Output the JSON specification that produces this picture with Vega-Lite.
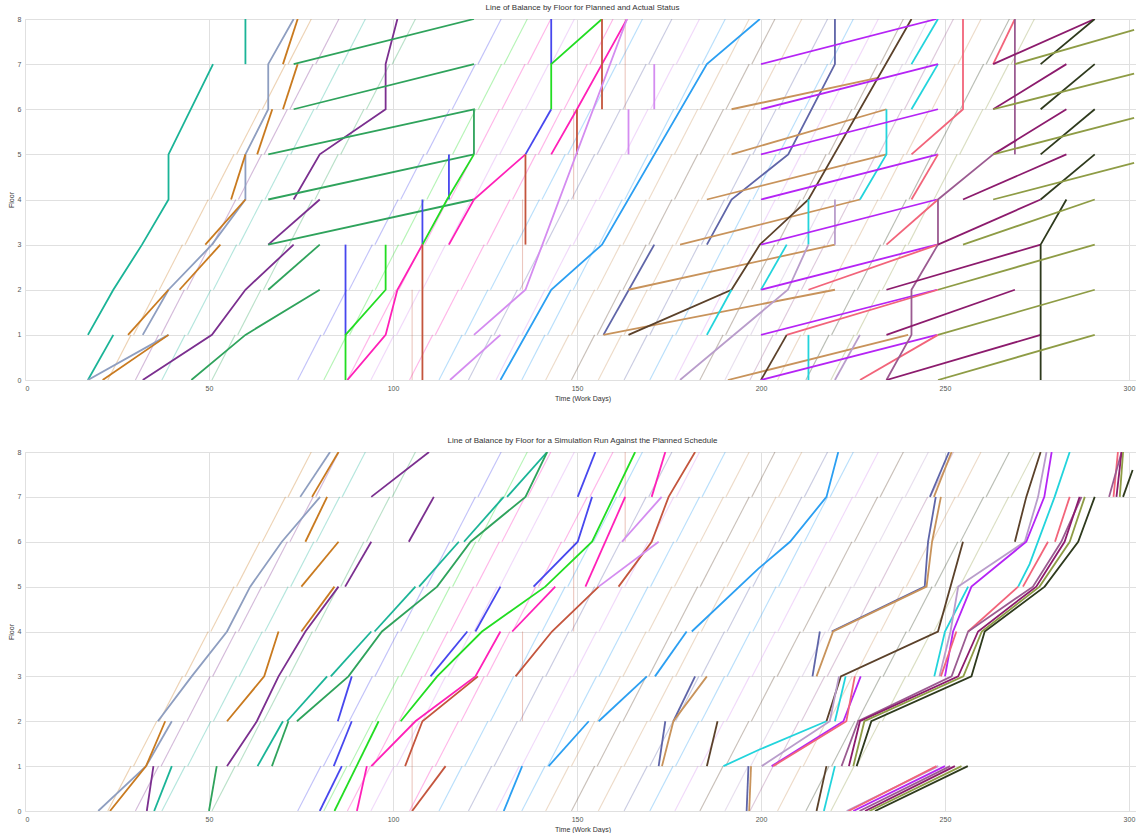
{
"$schema":"https://vega.github.io/schema/vega-lite/v6.json",
"padding":{"left":6,"top":3,"right":0,"bottom":0},
"background":"white",
"spacing":34,
"config":{
 "font":"Liberation Sans",
 "view":{"stroke":"#e0e0e0"},
 "axis":{"gridColor":"#e0e0e0","gridWidth":1,"domain":false,"ticks":false,"labelFontSize":7,"labelColor":"#555555","titleFontSize":7,"titleFontWeight":"normal","titleColor":"#333333","labelPadding":4,"titlePadding":3},
 "title":{"fontSize":8,"fontWeight":"normal","color":"#333333","offset":3}
},
"datasets":{
"plan":[
{"a":"orange","x":22.5,"x2":28.8,"y":0,"y2":1},{"a":"orange","x":29.5,"x2":35.8,"y":1,"y2":2},{"a":"orange","x":36.5,"x2":42.8,"y":2,"y2":3},{"a":"orange","x":43.5,"x2":49.8,"y":3,"y2":4},{"a":"orange","x":50.5,"x2":56.8,"y":4,"y2":5},{"a":"orange","x":57.5,"x2":63.8,"y":5,"y2":6},{"a":"orange","x":64.5,"x2":70.8,"y":6,"y2":7},{"a":"orange","x":71.5,"x2":77.8,"y":7,"y2":8},
{"a":"purple","x":30,"x2":36.3,"y":0,"y2":1},{"a":"purple","x":37,"x2":43.3,"y":1,"y2":2},{"a":"purple","x":44,"x2":50.3,"y":2,"y2":3},{"a":"purple","x":51,"x2":57.3,"y":3,"y2":4},{"a":"purple","x":58,"x2":64.3,"y":4,"y2":5},{"a":"purple","x":65,"x2":71.3,"y":5,"y2":6},{"a":"purple","x":72,"x2":78.3,"y":6,"y2":7},{"a":"purple","x":79,"x2":85.3,"y":7,"y2":8},
{"a":"teal","x":37.2,"x2":43.5,"y":0,"y2":1},{"a":"teal","x":44.2,"x2":50.5,"y":1,"y2":2},{"a":"teal","x":51.2,"x2":57.5,"y":2,"y2":3},{"a":"teal","x":58.2,"x2":64.5,"y":3,"y2":4},{"a":"teal","x":65.2,"x2":71.5,"y":4,"y2":5},{"a":"teal","x":72.2,"x2":78.5,"y":5,"y2":6},{"a":"teal","x":79.2,"x2":85.5,"y":6,"y2":7},{"a":"teal","x":86.2,"x2":92.5,"y":7,"y2":8},
{"a":"green","x":50.8,"x2":57.1,"y":0,"y2":1},{"a":"green","x":57.8,"x2":64.1,"y":1,"y2":2},{"a":"green","x":64.8,"x2":71.1,"y":2,"y2":3},{"a":"green","x":71.8,"x2":78.1,"y":3,"y2":4},{"a":"green","x":78.8,"x2":85.1,"y":4,"y2":5},{"a":"green","x":85.8,"x2":92.1,"y":5,"y2":6},{"a":"green","x":92.8,"x2":99.1,"y":6,"y2":7},{"a":"green","x":99.8,"x2":106.1,"y":7,"y2":8},
{"a":"blue","x":74.1,"x2":80.4,"y":0,"y2":1},{"a":"blue","x":81.1,"x2":87.4,"y":1,"y2":2},{"a":"blue","x":88.1,"x2":94.4,"y":2,"y2":3},{"a":"blue","x":95.1,"x2":101.4,"y":3,"y2":4},{"a":"blue","x":102.1,"x2":108.4,"y":4,"y2":5},{"a":"blue","x":109.1,"x2":115.4,"y":5,"y2":6},{"a":"blue","x":116.1,"x2":122.4,"y":6,"y2":7},{"a":"blue","x":123.1,"x2":129.4,"y":7,"y2":8},
{"a":"lime","x":81.2,"x2":87.5,"y":0,"y2":1},{"a":"lime","x":88.2,"x2":94.5,"y":1,"y2":2},{"a":"lime","x":95.2,"x2":101.5,"y":2,"y2":3},{"a":"lime","x":102.2,"x2":108.5,"y":3,"y2":4},{"a":"lime","x":109.2,"x2":115.5,"y":4,"y2":5},{"a":"lime","x":116.2,"x2":122.5,"y":5,"y2":6},{"a":"lime","x":123.2,"x2":129.5,"y":6,"y2":7},{"a":"lime","x":130.2,"x2":136.5,"y":7,"y2":8},
{"a":"magenta","x":87.6,"x2":93.9,"y":0,"y2":1},{"a":"magenta","x":94.6,"x2":100.9,"y":1,"y2":2},{"a":"magenta","x":101.6,"x2":107.9,"y":2,"y2":3},{"a":"magenta","x":108.6,"x2":114.9,"y":3,"y2":4},{"a":"magenta","x":115.6,"x2":121.9,"y":4,"y2":5},{"a":"magenta","x":122.6,"x2":128.9,"y":5,"y2":6},{"a":"magenta","x":129.6,"x2":135.9,"y":6,"y2":7},{"a":"magenta","x":136.6,"x2":142.9,"y":7,"y2":8},
{"a":"violet","x":94,"x2":100.3,"y":0,"y2":1},{"a":"violet","x":101,"x2":107.3,"y":1,"y2":2},{"a":"violet","x":108,"x2":114.3,"y":2,"y2":3},{"a":"violet","x":115,"x2":121.3,"y":3,"y2":4},{"a":"violet","x":122,"x2":128.3,"y":4,"y2":5},{"a":"violet","x":129,"x2":135.3,"y":5,"y2":6},{"a":"violet","x":136,"x2":142.3,"y":6,"y2":7},{"a":"violet","x":143,"x2":149.3,"y":7,"y2":8},
{"a":"magenta","x":104.5,"x2":110.8,"y":0,"y2":1},{"a":"magenta","x":111.5,"x2":117.8,"y":1,"y2":2},{"a":"magenta","x":118.5,"x2":124.8,"y":2,"y2":3},{"a":"magenta","x":125.5,"x2":131.8,"y":3,"y2":4},{"a":"magenta","x":132.5,"x2":138.8,"y":4,"y2":5},{"a":"magenta","x":139.5,"x2":145.8,"y":5,"y2":6},{"a":"magenta","x":146.5,"x2":152.8,"y":6,"y2":7},{"a":"magenta","x":153.5,"x2":159.8,"y":7,"y2":8},
{"a":"sky","x":112.5,"x2":118.8,"y":0,"y2":1},{"a":"sky","x":119.5,"x2":125.8,"y":1,"y2":2},{"a":"sky","x":126.5,"x2":132.8,"y":2,"y2":3},{"a":"sky","x":133.5,"x2":139.8,"y":3,"y2":4},{"a":"sky","x":140.5,"x2":146.8,"y":4,"y2":5},{"a":"sky","x":147.5,"x2":153.8,"y":5,"y2":6},{"a":"sky","x":154.5,"x2":160.8,"y":6,"y2":7},{"a":"sky","x":161.5,"x2":167.8,"y":7,"y2":8},
{"a":"slate","x":120.5,"x2":126.8,"y":0,"y2":1},{"a":"slate","x":127.5,"x2":133.8,"y":1,"y2":2},{"a":"slate","x":134.5,"x2":140.8,"y":2,"y2":3},{"a":"slate","x":141.5,"x2":147.8,"y":3,"y2":4},{"a":"slate","x":148.5,"x2":154.8,"y":4,"y2":5},{"a":"slate","x":155.5,"x2":161.8,"y":5,"y2":6},{"a":"slate","x":162.5,"x2":168.8,"y":6,"y2":7},{"a":"slate","x":169.5,"x2":175.8,"y":7,"y2":8},
{"a":"violet","x":128,"x2":134.3,"y":0,"y2":1},{"a":"violet","x":135,"x2":141.3,"y":1,"y2":2},{"a":"violet","x":142,"x2":148.3,"y":2,"y2":3},{"a":"violet","x":149,"x2":155.3,"y":3,"y2":4},{"a":"violet","x":156,"x2":162.3,"y":4,"y2":5},{"a":"violet","x":163,"x2":169.3,"y":5,"y2":6},{"a":"violet","x":170,"x2":176.3,"y":6,"y2":7},{"a":"violet","x":177,"x2":183.3,"y":7,"y2":8},
{"a":"sky","x":135,"x2":141.3,"y":0,"y2":1},{"a":"sky","x":142,"x2":148.3,"y":1,"y2":2},{"a":"sky","x":149,"x2":155.3,"y":2,"y2":3},{"a":"sky","x":156,"x2":162.3,"y":3,"y2":4},{"a":"sky","x":163,"x2":169.3,"y":4,"y2":5},{"a":"sky","x":170,"x2":176.3,"y":5,"y2":6},{"a":"sky","x":177,"x2":183.3,"y":6,"y2":7},{"a":"sky","x":184,"x2":190.3,"y":7,"y2":8},
{"a":"tan","x":141.5,"x2":147.8,"y":0,"y2":1},{"a":"tan","x":148.5,"x2":154.8,"y":1,"y2":2},{"a":"tan","x":155.5,"x2":161.8,"y":2,"y2":3},{"a":"tan","x":162.5,"x2":168.8,"y":3,"y2":4},{"a":"tan","x":169.5,"x2":175.8,"y":4,"y2":5},{"a":"tan","x":176.5,"x2":182.8,"y":5,"y2":6},{"a":"tan","x":183.5,"x2":189.8,"y":6,"y2":7},{"a":"tan","x":190.5,"x2":196.8,"y":7,"y2":8},
{"a":"brown","x":148.5,"x2":154.8,"y":0,"y2":1},{"a":"brown","x":155.5,"x2":161.8,"y":1,"y2":2},{"a":"brown","x":162.5,"x2":168.8,"y":2,"y2":3},{"a":"brown","x":169.5,"x2":175.8,"y":3,"y2":4},{"a":"brown","x":176.5,"x2":182.8,"y":4,"y2":5},{"a":"brown","x":183.5,"x2":189.8,"y":5,"y2":6},{"a":"brown","x":190.5,"x2":196.8,"y":6,"y2":7},{"a":"brown","x":197.5,"x2":203.8,"y":7,"y2":8},
{"a":"tan","x":155.8,"x2":162.1,"y":0,"y2":1},{"a":"tan","x":162.8,"x2":169.1,"y":1,"y2":2},{"a":"tan","x":169.8,"x2":176.1,"y":2,"y2":3},{"a":"tan","x":176.8,"x2":183.1,"y":3,"y2":4},{"a":"tan","x":183.8,"x2":190.1,"y":4,"y2":5},{"a":"tan","x":190.8,"x2":197.1,"y":5,"y2":6},{"a":"tan","x":197.8,"x2":204.1,"y":6,"y2":7},{"a":"tan","x":204.8,"x2":211.1,"y":7,"y2":8},
{"a":"slate","x":162.8,"x2":169.1,"y":0,"y2":1},{"a":"slate","x":169.8,"x2":176.1,"y":1,"y2":2},{"a":"slate","x":176.8,"x2":183.1,"y":2,"y2":3},{"a":"slate","x":183.8,"x2":190.1,"y":3,"y2":4},{"a":"slate","x":190.8,"x2":197.1,"y":4,"y2":5},{"a":"slate","x":197.8,"x2":204.1,"y":5,"y2":6},{"a":"slate","x":204.8,"x2":211.1,"y":6,"y2":7},{"a":"slate","x":211.8,"x2":218.1,"y":7,"y2":8},
{"a":"sky","x":169.8,"x2":176.1,"y":0,"y2":1},{"a":"sky","x":176.8,"x2":183.1,"y":1,"y2":2},{"a":"sky","x":183.8,"x2":190.1,"y":2,"y2":3},{"a":"sky","x":190.8,"x2":197.1,"y":3,"y2":4},{"a":"sky","x":197.8,"x2":204.1,"y":4,"y2":5},{"a":"sky","x":204.8,"x2":211.1,"y":5,"y2":6},{"a":"sky","x":211.8,"x2":218.1,"y":6,"y2":7},{"a":"sky","x":218.8,"x2":225.1,"y":7,"y2":8},
{"a":"violet","x":176.6,"x2":182.9,"y":0,"y2":1},{"a":"violet","x":183.6,"x2":189.9,"y":1,"y2":2},{"a":"violet","x":190.6,"x2":196.9,"y":2,"y2":3},{"a":"violet","x":197.6,"x2":203.9,"y":3,"y2":4},{"a":"violet","x":204.6,"x2":210.9,"y":4,"y2":5},{"a":"violet","x":211.6,"x2":217.9,"y":5,"y2":6},{"a":"violet","x":218.6,"x2":224.9,"y":6,"y2":7},{"a":"violet","x":225.6,"x2":231.9,"y":7,"y2":8},
{"a":"brown","x":183.4,"x2":189.7,"y":0,"y2":1},{"a":"brown","x":190.4,"x2":196.7,"y":1,"y2":2},{"a":"brown","x":197.4,"x2":203.7,"y":2,"y2":3},{"a":"brown","x":204.4,"x2":210.7,"y":3,"y2":4},{"a":"brown","x":211.4,"x2":217.7,"y":4,"y2":5},{"a":"brown","x":218.4,"x2":224.7,"y":5,"y2":6},{"a":"brown","x":225.4,"x2":231.7,"y":6,"y2":7},{"a":"brown","x":232.4,"x2":238.7,"y":7,"y2":8},
{"a":"lilac","x":190.2,"x2":196.5,"y":0,"y2":1},{"a":"lilac","x":197.2,"x2":203.5,"y":1,"y2":2},{"a":"lilac","x":204.2,"x2":210.5,"y":2,"y2":3},{"a":"lilac","x":211.2,"x2":217.5,"y":3,"y2":4},{"a":"lilac","x":218.2,"x2":224.5,"y":4,"y2":5},{"a":"lilac","x":225.2,"x2":231.5,"y":5,"y2":6},{"a":"lilac","x":232.2,"x2":238.5,"y":6,"y2":7},{"a":"lilac","x":239.2,"x2":245.5,"y":7,"y2":8},
{"a":"mauve","x":197,"x2":203.3,"y":0,"y2":1},{"a":"mauve","x":204,"x2":210.3,"y":1,"y2":2},{"a":"mauve","x":211,"x2":217.3,"y":2,"y2":3},{"a":"mauve","x":218,"x2":224.3,"y":3,"y2":4},{"a":"mauve","x":225,"x2":231.3,"y":4,"y2":5},{"a":"mauve","x":232,"x2":238.3,"y":5,"y2":6},{"a":"mauve","x":239,"x2":245.3,"y":6,"y2":7},{"a":"mauve","x":246,"x2":252.3,"y":7,"y2":8},
{"a":"tan","x":204.5,"x2":210.8,"y":0,"y2":1},{"a":"tan","x":211.5,"x2":217.8,"y":1,"y2":2},{"a":"tan","x":218.5,"x2":224.8,"y":2,"y2":3},{"a":"tan","x":225.5,"x2":231.8,"y":3,"y2":4},{"a":"tan","x":232.5,"x2":238.8,"y":4,"y2":5},{"a":"tan","x":239.5,"x2":245.8,"y":5,"y2":6},{"a":"tan","x":246.5,"x2":252.8,"y":6,"y2":7},{"a":"tan","x":253.5,"x2":259.8,"y":7,"y2":8},
{"a":"dolive","x":212.2,"x2":218.5,"y":0,"y2":1},{"a":"dolive","x":219.2,"x2":225.5,"y":1,"y2":2},{"a":"dolive","x":226.2,"x2":232.5,"y":2,"y2":3},{"a":"dolive","x":233.2,"x2":239.5,"y":3,"y2":4},{"a":"dolive","x":240.2,"x2":246.5,"y":4,"y2":5},{"a":"dolive","x":247.2,"x2":253.5,"y":5,"y2":6},{"a":"dolive","x":254.2,"x2":260.5,"y":6,"y2":7},{"a":"dolive","x":261.2,"x2":267.5,"y":7,"y2":8},
{"a":"olive","x":219,"x2":225.3,"y":0,"y2":1},{"a":"olive","x":226,"x2":232.3,"y":1,"y2":2},{"a":"olive","x":233,"x2":239.3,"y":2,"y2":3},{"a":"olive","x":240,"x2":246.3,"y":3,"y2":4},{"a":"olive","x":247,"x2":253.3,"y":4,"y2":5},{"a":"olive","x":254,"x2":260.3,"y":5,"y2":6},{"a":"olive","x":261,"x2":267.3,"y":6,"y2":7},{"a":"olive","x":268,"x2":274.3,"y":7,"y2":8},
{"a":"red","x":105.2,"x2":105.2,"y":0,"y2":2},{"a":"red","x":135.2,"x2":135.2,"y":2,"y2":4},{"a":"red","x":149.1,"x2":149.1,"y":4,"y2":6},{"a":"red","x":163.1,"x2":163.1,"y":6,"y2":8}
],
"top":[
{"i":"t1","a":"teal","o":0,"x":17.1,"y":0},{"i":"t1","a":"teal","o":1,"x":24,"y":1},
{"i":"t2","a":"teal","o":0,"x":17.1,"y":1},{"i":"t2","a":"teal","o":1,"x":24,"y":2},{"i":"t2","a":"teal","o":2,"x":31.8,"y":3},{"i":"t2","a":"teal","o":3,"x":39,"y":4},{"i":"t2","a":"teal","o":4,"x":39,"y":5},{"i":"t2","a":"teal","o":5,"x":51.1,"y":7},
{"i":"t3","a":"teal","o":0,"x":59.9,"y":7},{"i":"t3","a":"teal","o":1,"x":59.9,"y":8},
{"i":"t4","a":"graybl","o":0,"x":17.1,"y":0},{"i":"t4","a":"graybl","o":1,"x":39,"y":1},
{"i":"t5","a":"graybl","o":0,"x":32,"y":1},{"i":"t5","a":"graybl","o":1,"x":39,"y":2},{"i":"t5","a":"graybl","o":2,"x":50.8,"y":3},{"i":"t5","a":"graybl","o":3,"x":59.9,"y":4},{"i":"t5","a":"graybl","o":4,"x":59.9,"y":5},{"i":"t5","a":"graybl","o":5,"x":66.1,"y":6},{"i":"t5","a":"graybl","o":6,"x":66.1,"y":7},{"i":"t5","a":"graybl","o":7,"x":73,"y":8},
{"i":"t6","a":"orange","o":0,"x":21.1,"y":0},{"i":"t6","a":"orange","o":1,"x":39,"y":1},
{"i":"t7","a":"orange","o":0,"x":28,"y":1},{"i":"t7","a":"orange","o":1,"x":39,"y":2},
{"i":"t8","a":"orange","o":0,"x":42,"y":2},{"i":"t8","a":"orange","o":1,"x":53.1,"y":3},
{"i":"t9","a":"orange","o":0,"x":49,"y":3},{"i":"t9","a":"orange","o":1,"x":59.9,"y":4},
{"i":"t10","a":"orange","o":0,"x":56,"y":4},{"i":"t10","a":"orange","o":1,"x":59.9,"y":5},
{"i":"t11","a":"orange","o":0,"x":63.1,"y":5},{"i":"t11","a":"orange","o":1,"x":67.2,"y":6},
{"i":"t12","a":"orange","o":0,"x":70.1,"y":6},{"i":"t12","a":"orange","o":1,"x":74.1,"y":7},
{"i":"t13","a":"orange","o":0,"x":70.1,"y":7},{"i":"t13","a":"orange","o":1,"x":74.1,"y":8},
{"i":"t14","a":"purple","o":0,"x":32,"y":0},{"i":"t14","a":"purple","o":1,"x":50.8,"y":1},{"i":"t14","a":"purple","o":2,"x":59.9,"y":2},{"i":"t14","a":"purple","o":3,"x":73,"y":3},
{"i":"t15","a":"purple","o":0,"x":66.1,"y":3},{"i":"t15","a":"purple","o":1,"x":80.1,"y":4},
{"i":"t16","a":"purple","o":0,"x":73,"y":4},{"i":"t16","a":"purple","o":1,"x":80.1,"y":5},{"i":"t16","a":"purple","o":2,"x":98,"y":6},{"i":"t16","a":"purple","o":3,"x":98,"y":7},{"i":"t16","a":"purple","o":4,"x":101.2,"y":8},
{"i":"t17","a":"green","o":0,"x":45.2,"y":0},{"i":"t17","a":"green","o":1,"x":59.9,"y":1},{"i":"t17","a":"green","o":2,"x":80.1,"y":2},
{"i":"t18","a":"green","o":0,"x":66.1,"y":2},{"i":"t18","a":"green","o":1,"x":80.1,"y":3},
{"i":"t19","a":"green","o":0,"x":66.1,"y":3},{"i":"t19","a":"green","o":1,"x":122,"y":4},
{"i":"t20","a":"green","o":0,"x":66.1,"y":4},{"i":"t20","a":"green","o":1,"x":122,"y":5},
{"i":"t21","a":"green","o":0,"x":66.1,"y":5},{"i":"t21","a":"green","o":1,"x":122,"y":6},{"i":"t21","a":"green","o":2,"x":122,"y":5},
{"i":"t22","a":"green","o":0,"x":73,"y":6},{"i":"t22","a":"green","o":1,"x":122,"y":7},
{"i":"t23","a":"green","o":0,"x":73,"y":7},{"i":"t23","a":"green","o":1,"x":122,"y":8},
{"i":"t24","a":"blue","o":0,"x":87.1,"y":1},{"i":"t24","a":"blue","o":1,"x":87.1,"y":3},
{"i":"t25","a":"blue","o":0,"x":108,"y":3},{"i":"t25","a":"blue","o":1,"x":108,"y":4},
{"i":"t26","a":"blue","o":0,"x":115.2,"y":4},{"i":"t26","a":"blue","o":1,"x":115.2,"y":5},
{"i":"t27","a":"blue","o":0,"x":136,"y":5},{"i":"t27","a":"blue","o":1,"x":143,"y":6},
{"i":"t28","a":"blue","o":0,"x":143,"y":7},{"i":"t28","a":"blue","o":1,"x":143,"y":8},
{"i":"t29","a":"lime","o":0,"x":87.1,"y":0},{"i":"t29","a":"lime","o":1,"x":87.1,"y":1},{"i":"t29","a":"lime","o":2,"x":98,"y":2},{"i":"t29","a":"lime","o":3,"x":98,"y":3},
{"i":"t30","a":"lime","o":0,"x":108,"y":3},{"i":"t30","a":"lime","o":1,"x":114.7,"y":4},{"i":"t30","a":"lime","o":2,"x":122,"y":5},
{"i":"t31","a":"lime","o":0,"x":143,"y":6},{"i":"t31","a":"lime","o":1,"x":143,"y":7},{"i":"t31","a":"lime","o":2,"x":156.8,"y":8},
{"i":"t32","a":"magenta","o":0,"x":87.6,"y":0},{"i":"t32","a":"magenta","o":1,"x":98,"y":1},{"i":"t32","a":"magenta","o":2,"x":101.2,"y":2},{"i":"t32","a":"magenta","o":3,"x":108,"y":3},
{"i":"t33","a":"magenta","o":0,"x":115.2,"y":3},{"i":"t33","a":"magenta","o":1,"x":122,"y":4},{"i":"t33","a":"magenta","o":2,"x":136,"y":5},
{"i":"t34","a":"magenta","o":0,"x":143,"y":5},{"i":"t34","a":"magenta","o":1,"x":150,"y":6},{"i":"t34","a":"magenta","o":2,"x":156.8,"y":7},{"i":"t34","a":"magenta","o":3,"x":163.6,"y":8},
{"i":"t35","a":"red","o":0,"x":108,"y":0},{"i":"t35","a":"red","o":1,"x":108,"y":3},
{"i":"t36","a":"red","o":0,"x":136,"y":3},{"i":"t36","a":"red","o":1,"x":136,"y":5},
{"i":"t37","a":"red","o":0,"x":150,"y":5},{"i":"t37","a":"red","o":1,"x":150,"y":6},
{"i":"t38","a":"red","o":0,"x":156.8,"y":6},{"i":"t38","a":"red","o":1,"x":156.8,"y":8},
{"i":"t39","a":"violet","o":0,"x":115.5,"y":0},{"i":"t39","a":"violet","o":1,"x":129.2,"y":1},
{"i":"t40","a":"violet","o":0,"x":122,"y":1},{"i":"t40","a":"violet","o":1,"x":136,"y":2},{"i":"t40","a":"violet","o":2,"x":163.6,"y":8},
{"i":"t41","a":"violet","o":0,"x":164,"y":5},{"i":"t41","a":"violet","o":1,"x":164,"y":6},
{"i":"t42","a":"violet","o":0,"x":171,"y":6},{"i":"t42","a":"violet","o":1,"x":171,"y":7},
{"i":"t43","a":"sky","o":0,"x":129.2,"y":0},{"i":"t43","a":"sky","o":1,"x":143,"y":2},{"i":"t43","a":"sky","o":2,"x":156.8,"y":3},{"i":"t43","a":"sky","o":3,"x":185.3,"y":7},{"i":"t43","a":"sky","o":4,"x":199.7,"y":8},
{"i":"t44","a":"slate","o":0,"x":157.2,"y":1},{"i":"t44","a":"slate","o":1,"x":171,"y":3},
{"i":"t45","a":"slate","o":0,"x":185.3,"y":3},{"i":"t45","a":"slate","o":1,"x":192,"y":4},{"i":"t45","a":"slate","o":2,"x":207.4,"y":5},{"i":"t45","a":"slate","o":3,"x":220.1,"y":7},{"i":"t45","a":"slate","o":4,"x":220.1,"y":8},
{"i":"t46","a":"tan","o":0,"x":157.2,"y":1},{"i":"t46","a":"tan","o":1,"x":220.1,"y":2},
{"i":"t47","a":"tan","o":0,"x":164,"y":2},{"i":"t47","a":"tan","o":1,"x":220.1,"y":3},
{"i":"t48","a":"tan","o":0,"x":178,"y":3},{"i":"t48","a":"tan","o":1,"x":226.9,"y":4},
{"i":"t49","a":"tan","o":0,"x":185.3,"y":4},{"i":"t49","a":"tan","o":1,"x":234.1,"y":5},
{"i":"t50","a":"tan","o":0,"x":192,"y":5},{"i":"t50","a":"tan","o":1,"x":234.1,"y":6},
{"i":"t51","a":"tan","o":0,"x":192,"y":6},{"i":"t51","a":"tan","o":1,"x":232,"y":6.7},
{"i":"t52","a":"tan","o":0,"x":191,"y":0},{"i":"t52","a":"tan","o":1,"x":240,"y":1},
{"i":"t53","a":"brown","o":0,"x":164,"y":1},{"i":"t53","a":"brown","o":1,"x":192,"y":2},{"i":"t53","a":"brown","o":2,"x":199.7,"y":3},{"i":"t53","a":"brown","o":3,"x":212.9,"y":4},{"i":"t53","a":"brown","o":4,"x":240.9,"y":8},
{"i":"t54","a":"brown","o":0,"x":200,"y":0},{"i":"t54","a":"brown","o":1,"x":207,"y":1},
{"i":"t55","a":"cyan","o":0,"x":185.3,"y":1},{"i":"t55","a":"cyan","o":1,"x":192,"y":2},
{"i":"t56","a":"cyan","o":0,"x":200,"y":2},{"i":"t56","a":"cyan","o":1,"x":207,"y":3},
{"i":"t57","a":"cyan","o":0,"x":212.9,"y":0},{"i":"t57","a":"cyan","o":1,"x":212.9,"y":1},
{"i":"t58","a":"cyan","o":0,"x":212.9,"y":3},{"i":"t58","a":"cyan","o":1,"x":212.9,"y":4},
{"i":"t59","a":"cyan","o":0,"x":226.9,"y":4},{"i":"t59","a":"cyan","o":1,"x":234.1,"y":5},{"i":"t59","a":"cyan","o":2,"x":234.1,"y":6},
{"i":"t60","a":"cyan","o":0,"x":240.9,"y":6},{"i":"t60","a":"cyan","o":1,"x":248.1,"y":7},
{"i":"t61","a":"cyan","o":0,"x":240.9,"y":7},{"i":"t61","a":"cyan","o":1,"x":248.1,"y":8},
{"i":"t62","a":"lilac","o":0,"x":178,"y":0},{"i":"t62","a":"lilac","o":1,"x":207.3,"y":2},{"i":"t62","a":"lilac","o":2,"x":212.9,"y":3},
{"i":"t63","a":"lilac","o":0,"x":220.1,"y":0},{"i":"t63","a":"lilac","o":1,"x":226.9,"y":1},
{"i":"t63b","a":"lilac","o":0,"x":220.1,"y":3},{"i":"t63b","a":"lilac","o":1,"x":220.1,"y":4},
{"i":"t64","a":"vpurple","o":0,"x":200,"y":0},{"i":"t64","a":"vpurple","o":1,"x":247.8,"y":1},
{"i":"t65","a":"vpurple","o":0,"x":200,"y":1},{"i":"t65","a":"vpurple","o":1,"x":247.8,"y":2},
{"i":"t66","a":"vpurple","o":0,"x":200,"y":2},{"i":"t66","a":"vpurple","o":1,"x":247.8,"y":3},
{"i":"t67","a":"vpurple","o":0,"x":200,"y":3},{"i":"t67","a":"vpurple","o":1,"x":247.8,"y":4},
{"i":"t68","a":"vpurple","o":0,"x":200,"y":4},{"i":"t68","a":"vpurple","o":1,"x":248.1,"y":5},
{"i":"t69","a":"vpurple","o":0,"x":200,"y":5},{"i":"t69","a":"vpurple","o":1,"x":248.1,"y":6},
{"i":"t70","a":"vpurple","o":0,"x":200,"y":6},{"i":"t70","a":"vpurple","o":1,"x":248.1,"y":7},
{"i":"t71","a":"vpurple","o":0,"x":200,"y":7},{"i":"t71","a":"vpurple","o":1,"x":247.7,"y":8},
{"i":"t72","a":"salmon","o":0,"x":263.1,"y":7},{"i":"t72","a":"salmon","o":1,"x":269,"y":8},
{"i":"t73","a":"salmon","o":0,"x":254.9,"y":8},{"i":"t73","a":"salmon","o":1,"x":254.9,"y":6},{"i":"t73","a":"salmon","o":2,"x":240.9,"y":5},
{"i":"t74","a":"salmon","o":0,"x":248.1,"y":5},{"i":"t74","a":"salmon","o":1,"x":240.9,"y":4},
{"i":"t75","a":"salmon","o":0,"x":248.1,"y":4},{"i":"t75","a":"salmon","o":1,"x":234.1,"y":3},
{"i":"t76","a":"salmon","o":0,"x":212.9,"y":2},{"i":"t76","a":"salmon","o":1,"x":248.1,"y":3},
{"i":"t77","a":"salmon","o":0,"x":207,"y":1},{"i":"t77","a":"salmon","o":1,"x":248.1,"y":2},
{"i":"t78","a":"salmon","o":0,"x":226.9,"y":0},{"i":"t78","a":"salmon","o":1,"x":248.1,"y":1},
{"i":"t79","a":"mauve","o":0,"x":234.1,"y":0},{"i":"t79","a":"mauve","o":1,"x":240.9,"y":1},{"i":"t79","a":"mauve","o":2,"x":240.9,"y":2},{"i":"t79","a":"mauve","o":3,"x":248.1,"y":3},{"i":"t79","a":"mauve","o":4,"x":248.1,"y":4},{"i":"t79","a":"mauve","o":5,"x":263.1,"y":5},
{"i":"t80","a":"mauve","o":0,"x":269,"y":5},{"i":"t80","a":"mauve","o":1,"x":269,"y":8},
{"i":"t81","a":"dmagenta","o":0,"x":263.1,"y":7},{"i":"t81","a":"dmagenta","o":1,"x":290.7,"y":8},
{"i":"t82","a":"dmagenta","o":0,"x":263.1,"y":6},{"i":"t82","a":"dmagenta","o":1,"x":283,"y":7},
{"i":"t83","a":"dmagenta","o":0,"x":263.1,"y":5},{"i":"t83","a":"dmagenta","o":1,"x":283,"y":6},
{"i":"t84","a":"dmagenta","o":0,"x":254.9,"y":4},{"i":"t84","a":"dmagenta","o":1,"x":283,"y":5},
{"i":"t85","a":"dmagenta","o":0,"x":248.1,"y":3},{"i":"t85","a":"dmagenta","o":1,"x":276,"y":4},
{"i":"t86","a":"dmagenta","o":0,"x":234.1,"y":2},{"i":"t86","a":"dmagenta","o":1,"x":276,"y":3},
{"i":"t87","a":"dmagenta","o":0,"x":234.1,"y":1},{"i":"t87","a":"dmagenta","o":1,"x":269,"y":2},
{"i":"t88","a":"dmagenta","o":0,"x":234.1,"y":0},{"i":"t88","a":"dmagenta","o":1,"x":276,"y":1},
{"i":"t89","a":"dolive","o":0,"x":276,"y":7},{"i":"t89","a":"dolive","o":1,"x":290.7,"y":8},
{"i":"t90","a":"dolive","o":0,"x":276,"y":6},{"i":"t90","a":"dolive","o":1,"x":290.7,"y":7},
{"i":"t91","a":"dolive","o":0,"x":276,"y":5},{"i":"t91","a":"dolive","o":1,"x":290.7,"y":6},
{"i":"t92","a":"dolive","o":0,"x":276,"y":4},{"i":"t92","a":"dolive","o":1,"x":290.7,"y":5},
{"i":"t93","a":"dolive","o":0,"x":276,"y":0},{"i":"t93","a":"dolive","o":1,"x":276,"y":3},{"i":"t93","a":"dolive","o":2,"x":283,"y":4},
{"i":"t94","a":"olive","o":0,"x":269,"y":7},{"i":"t94","a":"olive","o":1,"x":301.4,"y":7.76},
{"i":"t95","a":"olive","o":0,"x":263.1,"y":6},{"i":"t95","a":"olive","o":1,"x":301.4,"y":6.79},
{"i":"t96","a":"olive","o":0,"x":263.1,"y":5},{"i":"t96","a":"olive","o":1,"x":301.4,"y":5.81},
{"i":"t97","a":"olive","o":0,"x":263.1,"y":4},{"i":"t97","a":"olive","o":1,"x":301.4,"y":4.81},
{"i":"t98","a":"olive","o":0,"x":254.9,"y":3},{"i":"t98","a":"olive","o":1,"x":290.7,"y":4},
{"i":"t99","a":"olive","o":0,"x":248.1,"y":2},{"i":"t99","a":"olive","o":1,"x":290.7,"y":3},
{"i":"t100","a":"olive","o":0,"x":248.1,"y":1},{"i":"t100","a":"olive","o":1,"x":290.7,"y":2},
{"i":"t101","a":"olive","o":0,"x":248.1,"y":0},{"i":"t101","a":"olive","o":1,"x":290.7,"y":1}
],
"bot":[
{"i":"b1","a":"graybl","o":0,"x":19.9,"y":0},{"i":"b1","a":"graybl","o":1,"x":32.9,"y":1},
{"i":"b2","a":"graybl","o":0,"x":32.9,"y":1},{"i":"b2","a":"graybl","o":1,"x":39.9,"y":2},
{"i":"b3","a":"graybl","o":0,"x":36.1,"y":2},{"i":"b3","a":"graybl","o":1,"x":45.3,"y":3},{"i":"b3","a":"graybl","o":2,"x":54.9,"y":4},{"i":"b3","a":"graybl","o":3,"x":61.2,"y":5},{"i":"b3","a":"graybl","o":4,"x":69.8,"y":6},{"i":"b3","a":"graybl","o":5,"x":80.2,"y":7},
{"i":"b4","a":"graybl","o":0,"x":74.8,"y":7},{"i":"b4","a":"graybl","o":1,"x":82.9,"y":8},
{"i":"b5","a":"orange","o":0,"x":23.1,"y":0},{"i":"b5","a":"orange","o":1,"x":32.9,"y":1},{"i":"b5","a":"orange","o":2,"x":38.1,"y":2},
{"i":"b6","a":"orange","o":0,"x":54.9,"y":2},{"i":"b6","a":"orange","o":1,"x":65,"y":3},{"i":"b6","a":"orange","o":2,"x":68.9,"y":4},
{"i":"b7","a":"orange","o":0,"x":75.1,"y":4},{"i":"b7","a":"orange","o":1,"x":84.1,"y":5},
{"i":"b8","a":"orange","o":0,"x":75.1,"y":5},{"i":"b8","a":"orange","o":1,"x":85.2,"y":6},
{"i":"b9","a":"orange","o":0,"x":76.2,"y":6},{"i":"b9","a":"orange","o":1,"x":82.1,"y":7},
{"i":"b10","a":"orange","o":0,"x":78,"y":7},{"i":"b10","a":"orange","o":1,"x":85.2,"y":8},
{"i":"b11","a":"purple","o":0,"x":33.1,"y":0},{"i":"b11","a":"purple","o":1,"x":34.9,"y":1},
{"i":"b12","a":"purple","o":0,"x":54.9,"y":1},{"i":"b12","a":"purple","o":1,"x":63,"y":2},{"i":"b12","a":"purple","o":2,"x":68.9,"y":3},{"i":"b12","a":"purple","o":3,"x":76.2,"y":4},{"i":"b12","a":"purple","o":4,"x":85.2,"y":5},
{"i":"b13","a":"purple","o":0,"x":87,"y":5},{"i":"b13","a":"purple","o":1,"x":94.1,"y":6},
{"i":"b14","a":"purple","o":0,"x":94.1,"y":7},{"i":"b14","a":"purple","o":1,"x":109.8,"y":8},
{"i":"b15","a":"purple","o":0,"x":104.3,"y":6},{"i":"b15","a":"purple","o":1,"x":111.1,"y":7},
{"i":"b16","a":"teal","o":0,"x":35.1,"y":0},{"i":"b16","a":"teal","o":1,"x":39.9,"y":1},
{"i":"b17","a":"teal","o":0,"x":63.2,"y":1},{"i":"b17","a":"teal","o":1,"x":70.1,"y":2},
{"i":"b18","a":"teal","o":0,"x":71.2,"y":2},{"i":"b18","a":"teal","o":1,"x":82.1,"y":3},
{"i":"b19","a":"teal","o":0,"x":83.1,"y":3},{"i":"b19","a":"teal","o":1,"x":94.1,"y":4},
{"i":"b20","a":"teal","o":0,"x":95,"y":4},{"i":"b20","a":"teal","o":1,"x":106.1,"y":5},
{"i":"b21","a":"teal","o":0,"x":107.1,"y":5},{"i":"b21","a":"teal","o":1,"x":117.9,"y":6},
{"i":"b22","a":"teal","o":0,"x":119.3,"y":6},{"i":"b22","a":"teal","o":1,"x":130.1,"y":7},
{"i":"b23","a":"teal","o":0,"x":131,"y":7},{"i":"b23","a":"teal","o":1,"x":141.9,"y":8},
{"i":"b24","a":"green","o":0,"x":50,"y":0},{"i":"b24","a":"green","o":1,"x":52.1,"y":1},
{"i":"b25","a":"green","o":0,"x":67.1,"y":1},{"i":"b25","a":"green","o":1,"x":71.6,"y":2},
{"i":"b26","a":"green","o":0,"x":73.9,"y":2},{"i":"b26","a":"green","o":1,"x":87.9,"y":3},{"i":"b26","a":"green","o":2,"x":97,"y":4},{"i":"b26","a":"green","o":3,"x":112,"y":5},{"i":"b26","a":"green","o":4,"x":121.1,"y":6},{"i":"b26","a":"green","o":5,"x":136,"y":7},{"i":"b26","a":"green","o":6,"x":141.9,"y":8},
{"i":"b27","a":"blue","o":0,"x":80.1,"y":0},{"i":"b27","a":"blue","o":1,"x":86.1,"y":1},
{"i":"b28","a":"blue","o":0,"x":83.9,"y":1},{"i":"b28","a":"blue","o":1,"x":88.8,"y":2},
{"i":"b29","a":"blue","o":0,"x":85,"y":2},{"i":"b29","a":"blue","o":1,"x":88.8,"y":3},
{"i":"b30","a":"blue","o":0,"x":110.2,"y":3},{"i":"b30","a":"blue","o":1,"x":120.2,"y":4},
{"i":"b31","a":"blue","o":0,"x":122.4,"y":4},{"i":"b31","a":"blue","o":1,"x":129.2,"y":5},
{"i":"b32","a":"blue","o":0,"x":138.2,"y":5},{"i":"b32","a":"blue","o":1,"x":150.2,"y":6},{"i":"b32","a":"blue","o":2,"x":154.1,"y":7},
{"i":"b33","a":"blue","o":0,"x":150.2,"y":7},{"i":"b33","a":"blue","o":1,"x":155,"y":8},
{"i":"b34","a":"lime","o":0,"x":84.1,"y":0},{"i":"b34","a":"lime","o":1,"x":96.1,"y":2},
{"i":"b35","a":"lime","o":0,"x":102.1,"y":2},{"i":"b35","a":"lime","o":1,"x":112,"y":3},{"i":"b35","a":"lime","o":2,"x":124.2,"y":4},{"i":"b35","a":"lime","o":3,"x":141.4,"y":5},{"i":"b35","a":"lime","o":4,"x":154.1,"y":6},{"i":"b35","a":"lime","o":5,"x":165.8,"y":8},
{"i":"b36","a":"magenta","o":0,"x":90.2,"y":0},{"i":"b36","a":"magenta","o":1,"x":92.9,"y":1},
{"i":"b37","a":"magenta","o":0,"x":94.1,"y":1},{"i":"b37","a":"magenta","o":1,"x":106.1,"y":2},{"i":"b37","a":"magenta","o":2,"x":122.4,"y":3},{"i":"b37","a":"magenta","o":3,"x":129.2,"y":4},
{"i":"b38","a":"magenta","o":0,"x":132.4,"y":4},{"i":"b38","a":"magenta","o":1,"x":144.1,"y":5},
{"i":"b39","a":"magenta","o":0,"x":152.3,"y":5},{"i":"b39","a":"magenta","o":1,"x":163.1,"y":7},
{"i":"b40","a":"magenta","o":0,"x":170.3,"y":7},{"i":"b40","a":"magenta","o":1,"x":174,"y":8},
{"i":"b41","a":"red","o":0,"x":105.2,"y":0},{"i":"b41","a":"red","o":1,"x":114.3,"y":1},
{"i":"b42","a":"red","o":0,"x":103.3,"y":1},{"i":"b42","a":"red","o":1,"x":108,"y":2},{"i":"b42","a":"red","o":2,"x":123.1,"y":3},
{"i":"b43","a":"red","o":0,"x":133.3,"y":3},{"i":"b43","a":"red","o":1,"x":143.2,"y":4},{"i":"b43","a":"red","o":2,"x":155.9,"y":5},
{"i":"b44","a":"red","o":0,"x":161.3,"y":5},{"i":"b44","a":"red","o":1,"x":170.3,"y":6},{"i":"b44","a":"red","o":2,"x":174.9,"y":7},{"i":"b44","a":"red","o":3,"x":182.1,"y":8},
{"i":"b45","a":"violet","o":0,"x":155.9,"y":5},{"i":"b45","a":"violet","o":1,"x":172.2,"y":6},
{"i":"b46","a":"violet","o":0,"x":162.2,"y":6},{"i":"b46","a":"violet","o":1,"x":173,"y":7},
{"i":"b47","a":"sky","o":0,"x":130.1,"y":0},{"i":"b47","a":"sky","o":1,"x":135.1,"y":1},
{"i":"b48","a":"sky","o":0,"x":142.3,"y":1},{"i":"b48","a":"sky","o":1,"x":153.2,"y":2},
{"i":"b49","a":"sky","o":0,"x":155.9,"y":2},{"i":"b49","a":"sky","o":1,"x":169,"y":3},
{"i":"b50","a":"sky","o":0,"x":171.2,"y":3},{"i":"b50","a":"sky","o":1,"x":179.8,"y":4},
{"i":"b51","a":"sky","o":0,"x":181.2,"y":4},{"i":"b51","a":"sky","o":1,"x":199.3,"y":5.4},{"i":"b51","a":"sky","o":2,"x":207.9,"y":6},{"i":"b51","a":"sky","o":3,"x":217.8,"y":7},{"i":"b51","a":"sky","o":4,"x":221,"y":8},
{"i":"b52","a":"slate","o":0,"x":172.2,"y":1},{"i":"b52","a":"slate","o":1,"x":174,"y":2},
{"i":"b53","a":"slate","o":0,"x":176.2,"y":2},{"i":"b53","a":"slate","o":1,"x":182.1,"y":3},
{"i":"b54","a":"slate","o":0,"x":196.1,"y":0},{"i":"b54","a":"slate","o":1,"x":196.6,"y":1},
{"i":"b55","a":"slate","o":0,"x":214,"y":3},{"i":"b55","a":"slate","o":1,"x":216,"y":4},
{"i":"b56","a":"slate","o":0,"x":219.2,"y":4},{"i":"b56","a":"slate","o":1,"x":244.5,"y":5},{"i":"b56","a":"slate","o":2,"x":245.4,"y":6},{"i":"b56","a":"slate","o":3,"x":247.5,"y":7},
{"i":"b57","a":"slate","o":0,"x":245.9,"y":7},{"i":"b57","a":"slate","o":1,"x":251.1,"y":8},
{"i":"b58","a":"tan","o":0,"x":173.1,"y":1},{"i":"b58","a":"tan","o":1,"x":176.2,"y":2},{"i":"b58","a":"tan","o":2,"x":185.3,"y":3},
{"i":"b59","a":"tan","o":0,"x":196.8,"y":0},{"i":"b59","a":"tan","o":1,"x":197.3,"y":1},
{"i":"b60","a":"tan","o":0,"x":215.1,"y":3},{"i":"b60","a":"tan","o":1,"x":219.6,"y":4},{"i":"b60","a":"tan","o":2,"x":245,"y":5},{"i":"b60","a":"tan","o":3,"x":246.5,"y":6},{"i":"b60","a":"tan","o":4,"x":248.9,"y":7},
{"i":"b61","a":"tan","o":0,"x":247,"y":7},{"i":"b61","a":"tan","o":1,"x":251.8,"y":8},
{"i":"b62","a":"brown","o":0,"x":185.3,"y":1},{"i":"b62","a":"brown","o":1,"x":188.2,"y":2},
{"i":"b63","a":"brown","o":0,"x":215.1,"y":0},{"i":"b63","a":"brown","o":1,"x":217.8,"y":1},
{"i":"b64","a":"brown","o":0,"x":217.8,"y":2},{"i":"b64","a":"brown","o":1,"x":221.7,"y":3},{"i":"b64","a":"brown","o":2,"x":248.1,"y":4},{"i":"b64","a":"brown","o":3,"x":254.9,"y":6},
{"i":"b65","a":"brown","o":0,"x":269,"y":6},{"i":"b65","a":"brown","o":1,"x":272.1,"y":7},{"i":"b65","a":"brown","o":2,"x":276,"y":8},
{"i":"b66","a":"cyan","o":0,"x":189.8,"y":1},{"i":"b66","a":"cyan","o":1,"x":199.3,"y":1.36},{"i":"b66","a":"cyan","o":2,"x":217.8,"y":2},
{"i":"b67","a":"cyan","o":0,"x":217.1,"y":0},{"i":"b67","a":"cyan","o":1,"x":220.1,"y":1},
{"i":"b68","a":"cyan","o":0,"x":220.1,"y":2},{"i":"b68","a":"cyan","o":1,"x":223,"y":3},
{"i":"b69","a":"cyan","o":0,"x":247.1,"y":3},{"i":"b69","a":"cyan","o":1,"x":250,"y":4},{"i":"b69","a":"cyan","o":2,"x":256.3,"y":5},
{"i":"b70","a":"cyan","o":0,"x":269.9,"y":5},{"i":"b70","a":"cyan","o":1,"x":273,"y":5.5},{"i":"b70","a":"cyan","o":2,"x":279.8,"y":7},{"i":"b70","a":"cyan","o":3,"x":283.9,"y":8},
{"i":"b71","a":"lilac","o":0,"x":223.3,"y":0},{"i":"b71","a":"lilac","o":1,"x":248.2,"y":1},
{"i":"b72","a":"lilac","o":0,"x":200.2,"y":1},{"i":"b72","a":"lilac","o":1,"x":218.7,"y":2},{"i":"b72","a":"lilac","o":2,"x":221.2,"y":3},
{"i":"b73","a":"lilac","o":0,"x":248.5,"y":3},{"i":"b73","a":"lilac","o":1,"x":251.5,"y":4},{"i":"b73","a":"lilac","o":2,"x":253.6,"y":5},{"i":"b73","a":"lilac","o":3,"x":271.7,"y":6},{"i":"b73","a":"lilac","o":4,"x":275.3,"y":7},{"i":"b73","a":"lilac","o":5,"x":277.6,"y":8},
{"i":"b74","a":"vpurple","o":0,"x":225.1,"y":0},{"i":"b74","a":"vpurple","o":1,"x":250,"y":1},
{"i":"b75","a":"vpurple","o":0,"x":202.9,"y":1},{"i":"b75","a":"vpurple","o":1,"x":222.4,"y":2},{"i":"b75","a":"vpurple","o":2,"x":227.1,"y":3},
{"i":"b76","a":"vpurple","o":0,"x":250,"y":3},{"i":"b76","a":"vpurple","o":1,"x":250.9,"y":3.4},{"i":"b76","a":"vpurple","o":2,"x":252.2,"y":4},{"i":"b76","a":"vpurple","o":3,"x":257.2,"y":5},{"i":"b76","a":"vpurple","o":4,"x":272.1,"y":6},{"i":"b76","a":"vpurple","o":5,"x":277,"y":7},{"i":"b76","a":"vpurple","o":6,"x":279,"y":8},
{"i":"b77","a":"salmon","o":0,"x":223.8,"y":0},{"i":"b77","a":"salmon","o":1,"x":247.7,"y":1},
{"i":"b78","a":"salmon","o":0,"x":203.3,"y":1},{"i":"b78","a":"salmon","o":1,"x":223.2,"y":2},{"i":"b78","a":"salmon","o":2,"x":225.5,"y":3},
{"i":"b79","a":"salmon","o":0,"x":248.9,"y":3},{"i":"b79","a":"salmon","o":1,"x":253.1,"y":4},
{"i":"b80","a":"salmon","o":0,"x":256.3,"y":4},{"i":"b80","a":"salmon","o":1,"x":269.9,"y":5},
{"i":"b81","a":"salmon","o":0,"x":271.2,"y":5},{"i":"b81","a":"salmon","o":1,"x":278,"y":6},
{"i":"b82","a":"salmon","o":0,"x":279.9,"y":6},{"i":"b82","a":"salmon","o":1,"x":283.9,"y":7},
{"i":"b83","a":"salmon","o":0,"x":295.8,"y":7},{"i":"b83","a":"salmon","o":1,"x":297,"y":8},
{"i":"b84","a":"mauve","o":0,"x":226.8,"y":0},{"i":"b84","a":"mauve","o":1,"x":251.4,"y":1},
{"i":"b85","a":"mauve","o":0,"x":221.9,"y":1},{"i":"b85","a":"mauve","o":1,"x":226.4,"y":2},{"i":"b85","a":"mauve","o":2,"x":251.8,"y":3},{"i":"b85","a":"mauve","o":3,"x":256.3,"y":4},{"i":"b85","a":"mauve","o":4,"x":273.9,"y":5},{"i":"b85","a":"mauve","o":5,"x":281.6,"y":6},{"i":"b85","a":"mauve","o":6,"x":287.1,"y":7},
{"i":"b86","a":"mauve","o":0,"x":294.6,"y":7},{"i":"b86","a":"mauve","o":1,"x":298,"y":8},
{"i":"b87","a":"dmagenta","o":0,"x":228.3,"y":0},{"i":"b87","a":"dmagenta","o":1,"x":252.7,"y":1},
{"i":"b88","a":"dmagenta","o":0,"x":223.9,"y":1},{"i":"b88","a":"dmagenta","o":1,"x":226.9,"y":2},{"i":"b88","a":"dmagenta","o":2,"x":253.6,"y":3},{"i":"b88","a":"dmagenta","o":3,"x":259,"y":4},{"i":"b88","a":"dmagenta","o":4,"x":274.8,"y":5},{"i":"b88","a":"dmagenta","o":5,"x":282.5,"y":6},{"i":"b88","a":"dmagenta","o":6,"x":286.6,"y":7},
{"i":"b89","a":"dmagenta","o":0,"x":296.6,"y":7},{"i":"b89","a":"dmagenta","o":1,"x":298,"y":8},
{"i":"b90","a":"olive","o":0,"x":229.5,"y":0},{"i":"b90","a":"olive","o":1,"x":254.5,"y":1},
{"i":"b91","a":"olive","o":0,"x":225.1,"y":1},{"i":"b91","a":"olive","o":1,"x":228.1,"y":2},{"i":"b91","a":"olive","o":2,"x":255,"y":3},{"i":"b91","a":"olive","o":3,"x":260,"y":4},{"i":"b91","a":"olive","o":4,"x":275.7,"y":5},{"i":"b91","a":"olive","o":5,"x":283.9,"y":6},{"i":"b91","a":"olive","o":6,"x":288,"y":7},
{"i":"b92","a":"olive","o":0,"x":297.5,"y":7},{"i":"b92","a":"olive","o":1,"x":298.4,"y":8},
{"i":"b93","a":"dolive","o":0,"x":231,"y":0},{"i":"b93","a":"dolive","o":1,"x":256.2,"y":1},
{"i":"b94","a":"dolive","o":0,"x":226,"y":1},{"i":"b94","a":"dolive","o":1,"x":230,"y":2},{"i":"b94","a":"dolive","o":2,"x":257.2,"y":3},{"i":"b94","a":"dolive","o":3,"x":260.8,"y":4},{"i":"b94","a":"dolive","o":4,"x":277.1,"y":5},{"i":"b94","a":"dolive","o":5,"x":286.2,"y":6},{"i":"b94","a":"dolive","o":6,"x":290.7,"y":7},
{"i":"b95","a":"dolive","o":0,"x":298.4,"y":7},{"i":"b95","a":"dolive","o":1,"x":301,"y":7.6}
]
},
"vconcat":[
{"title":"Line of Balance by Floor for Planned and Actual Status","width":1115,"height":361,
 "layer":[
  {"data":{"name":"plan"},"mark":{"type":"rule","strokeWidth":1.1,"opacity":0.33,"clip":true},
   "encoding":{
    "x":{"field":"x","type":"quantitative","scale":{"domain":[0,303],"nice":false,"zero":false},"axis":{"values":[0,50,100,150,200,250,300],"title":"Time (Work Days)"}},
    "x2":{"field":"x2"},
    "y":{"field":"y","type":"quantitative","scale":{"domain":[0,8],"nice":false,"zero":false},"axis":{"values":[0,1,2,3,4,5,6,7,8],"title":"Floor"}},
    "y2":{"field":"y2"},
    "color":{"field":"a","type":"nominal","legend":null,"scale":{"domain":["graybl","orange","purple","teal","green","blue","lime","magenta","red","violet","sky","slate","tan","brown","cyan","lilac","vpurple","salmon","mauve","dmagenta","olive","dolive"],"range":["#8e9ec0","#c97a1f","#7b2f8f","#1ab497","#2fa35c","#4747ee","#22dd22","#ff20b8","#c4553d","#d48cf0","#2b9ff2","#5f65a8","#c8935b","#5b412a","#22d4dc","#b99dcb","#b524f5","#f2647a","#9b5b91","#8c1b6d","#8e9c45","#2e3a1d"]}}}},
  {"data":{"name":"top"},"mark":{"type":"line","strokeWidth":1.8,"clip":true},
   "encoding":{
    "x":{"field":"x","type":"quantitative"},
    "y":{"field":"y","type":"quantitative"},
    "detail":{"field":"i","type":"nominal"},
    "order":{"field":"o","type":"quantitative"},
    "color":{"field":"a","type":"nominal","legend":null}}}
 ]},
{"title":"Line of Balance by Floor for a Simulation Run Against the Planned Schedule","width":1115,"height":359,
 "layer":[
  {"data":{"name":"plan"},"mark":{"type":"rule","strokeWidth":1.1,"opacity":0.33,"clip":true},
   "encoding":{
    "x":{"field":"x","type":"quantitative","scale":{"domain":[0,303],"nice":false,"zero":false},"axis":{"values":[0,50,100,150,200,250,300],"title":"Time (Work Days)"}},
    "x2":{"field":"x2"},
    "y":{"field":"y","type":"quantitative","scale":{"domain":[0,8],"nice":false,"zero":false},"axis":{"values":[0,1,2,3,4,5,6,7,8],"title":"Floor"}},
    "y2":{"field":"y2"},
    "color":{"field":"a","type":"nominal","legend":null,"scale":{"domain":["graybl","orange","purple","teal","green","blue","lime","magenta","red","violet","sky","slate","tan","brown","cyan","lilac","vpurple","salmon","mauve","dmagenta","olive","dolive"],"range":["#8e9ec0","#c97a1f","#7b2f8f","#1ab497","#2fa35c","#4747ee","#22dd22","#ff20b8","#c4553d","#d48cf0","#2b9ff2","#5f65a8","#c8935b","#5b412a","#22d4dc","#b99dcb","#b524f5","#f2647a","#9b5b91","#8c1b6d","#8e9c45","#2e3a1d"]}}}},
  {"data":{"name":"bot"},"mark":{"type":"line","strokeWidth":1.8,"clip":true},
   "encoding":{
    "x":{"field":"x","type":"quantitative"},
    "y":{"field":"y","type":"quantitative"},
    "detail":{"field":"i","type":"nominal"},
    "order":{"field":"o","type":"quantitative"},
    "color":{"field":"a","type":"nominal","legend":null}}}
 ]}
]
}
